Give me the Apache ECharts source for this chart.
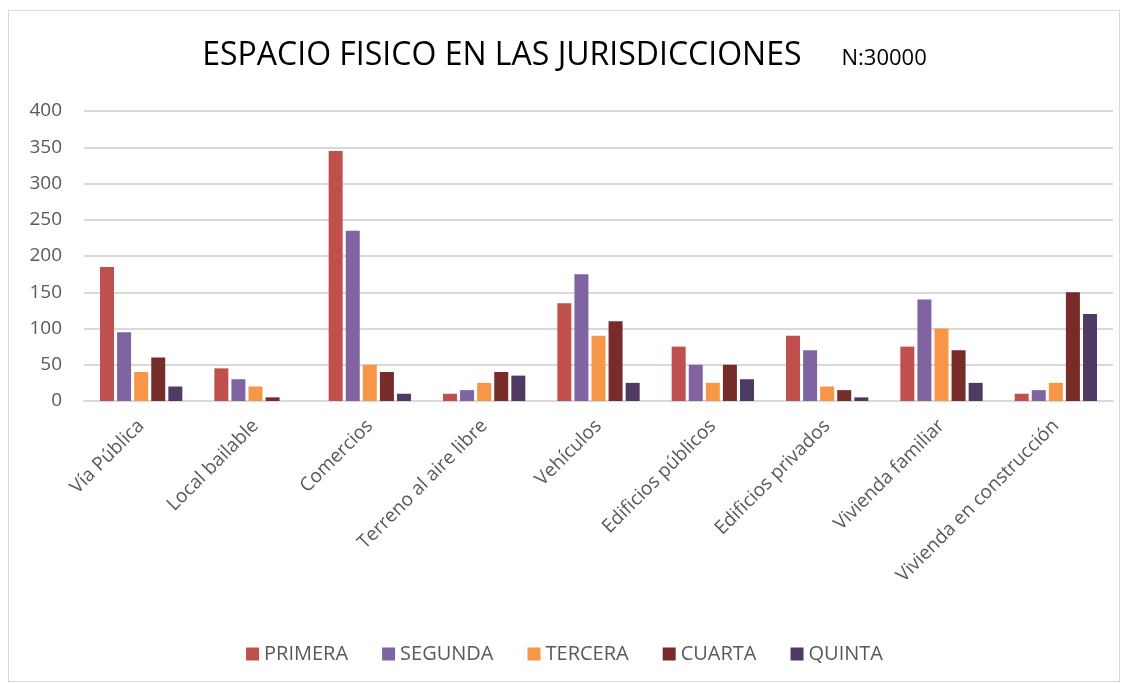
<!DOCTYPE html>
<html><head><meta charset="utf-8">
<script src="https://cdn.jsdelivr.net/npm/echarts@6/dist/echarts.min.js"></script>
<style>html,body{margin:0;padding:0;background:#fff}
#frame{position:absolute;left:8px;top:10px;width:1112px;height:672px;border:1px solid #d9d9d9;box-sizing:border-box}
#c{position:absolute;left:0;top:0;width:1129px;height:684px}</style>
</head><body><div id="frame"></div><div id="c"></div>
<script>
const categories = ['Vía Pública','Local bailable','Comercios','Terreno al aire libre','Vehículos','Edificios públicos','Edificios privados','Vivienda familiar','Vivienda en construcción'];
const seriesNames = ['PRIMERA','SEGUNDA','TERCERA','CUARTA','QUINTA'];
const primera = [185,45,345,10,135,75,90,75,10];
const segunda = [95,30,235,15,175,50,70,140,15];
const tercera = [40,20,50,25,90,25,20,100,25];
const cuarta  = [60,5,40,40,110,50,15,70,150];
const quinta  = [20,0,10,35,25,30,5,25,120];
const yTicks = [0,50,100,150,200,250,300,350,400];
const colors = ['#C0504D','#8064A2','#F79646','#772C2A','#4F3A64'];
const allData = [primera,segunda,tercera,cuarta,quinta];
const FONT = '"Open Sans", sans-serif';
const chart = echarts.init(document.getElementById('c'));
chart.setOption({
  animation:false,
  title:{text:'{a|ESPACIO FISICO EN LAS JURISDICCIONES}{b|       N:30000}',left:'center',top:35,
    textStyle:{rich:{a:{fontFamily:FONT,fontSize:32,color:'#000',fontWeight:'normal'},b:{fontFamily:FONT,fontSize:22,color:'#000',fontWeight:'normal',padding:[6,0,0,0]}}}},
  legend:{bottom:15,left:'center',itemWidth:13,itemHeight:13,itemGap:34,icon:'rect',
    textStyle:{fontFamily:FONT,fontSize:20,color:'#595959'},data:seriesNames},
  grid:{left:84,right:16,top:111,bottom:283,containLabel:false},
  xAxis:{type:'category',data:categories,axisTick:{show:false},
    axisLine:{lineStyle:{color:'#d9d9d9',width:2}},
    axisLabel:{rotate:45,interval:0,fontFamily:FONT,fontSize:19,color:'#595959',margin:22}},
  yAxis:{type:'value',min:0,max:400,interval:50,
    axisLine:{show:false},axisTick:{show:false},
    splitLine:{lineStyle:{color:'#d9d9d9',width:2}},
    axisLabel:{fontFamily:FONT,fontSize:19,color:'#595959',margin:22,
      formatter:v=>yTicks.includes(v)?String(v):''}},
  series:seriesNames.map((n,i)=>({name:n,type:'bar',data:allData[i],barWidth:14,barGap:'22%',
    itemStyle:{color:colors[i]}}))
});
</script></body></html>
